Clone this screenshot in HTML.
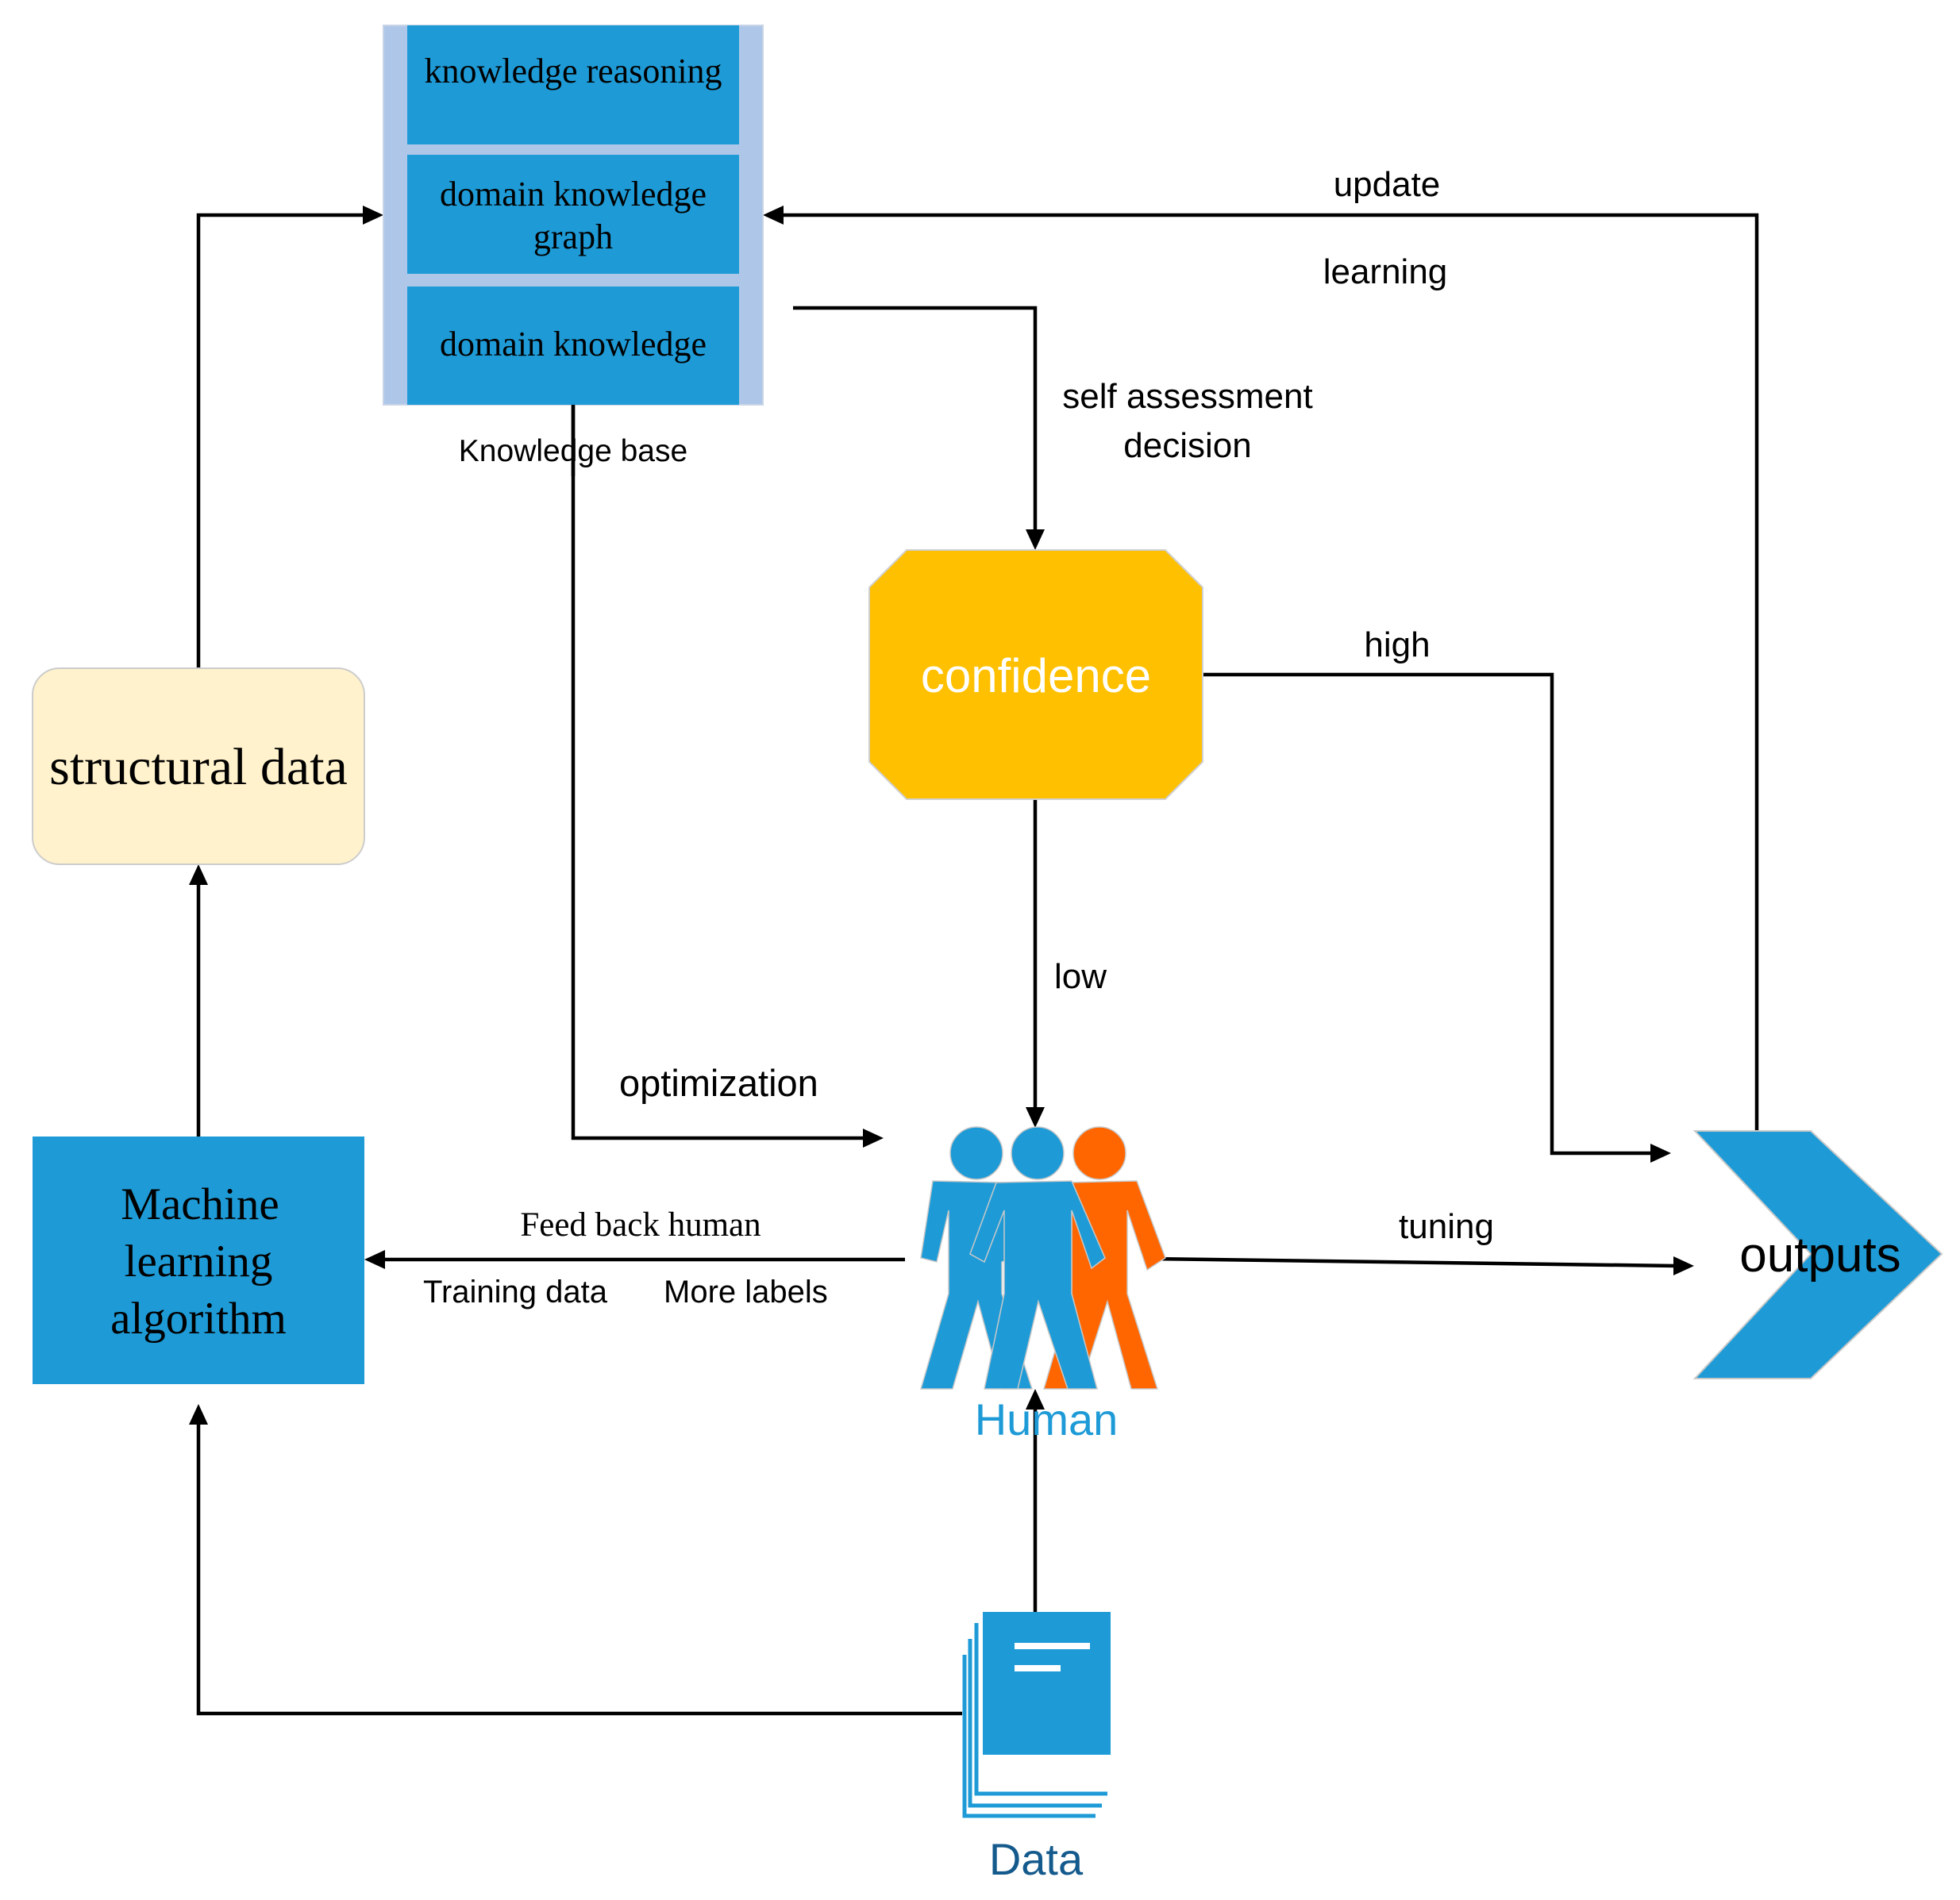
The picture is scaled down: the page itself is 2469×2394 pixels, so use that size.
<!DOCTYPE html>
<html><head><meta charset="utf-8"><style>
html,body{margin:0;padding:0;background:#fff;}
svg{display:block;}
.s{font-family:"Liberation Sans",sans-serif;}
.r{font-family:"Liberation Serif",serif;}
</style></head><body>
<svg width="2469" height="2394" viewBox="0 0 2469 2394" xmlns="http://www.w3.org/2000/svg">
<g fill="none" stroke="#000" stroke-width="4.5">
<polyline points="250,842 250,271 460,271"/>
<polyline points="2213,1424 2213,271 985,271"/>
<polyline points="999,388 1304,388 1304,670"/>
<polyline points="1515,850 1955,850 1955,1453 2082,1453"/>
<line x1="1304" y1="1007" x2="1304" y2="1398"/>
<polyline points="722,510 722,1434 1090,1434"/>
<line x1="250" y1="1432" x2="250" y2="1112"/>
<line x1="1140" y1="1587" x2="482" y2="1587"/>
<line x1="1448" y1="1586" x2="2111" y2="1595"/>
<polyline points="1212,2159 250,2159 250,1792"/>
<line x1="1304" y1="2031" x2="1304" y2="1773"/>
</g>
<g fill="#000">
<polygon points="483,271 457,259 457,283"/>
<polygon points="961,271 987,259 987,283"/>
<polygon points="1304,693 1292,667 1316,667"/>
<polygon points="2105,1453 2079,1441 2079,1465"/>
<polygon points="1304,1421 1292,1395 1316,1395"/>
<polygon points="1113,1434 1087,1422 1087,1446"/>
<polygon points="250,1089 238,1115 262,1115"/>
<polygon points="459,1587 485,1575 485,1599"/>
<polygon points="2134,1595 2108,1583 2108,1607"/>
<polygon points="250,1769 238,1795 262,1795"/>
<polygon points="1304,1750 1292,1776 1316,1776"/>
</g>
<rect x="483" y="32" width="478" height="478" fill="#aec7e8" stroke="#c8d4e6" stroke-width="2"/>
<rect x="513" y="32" width="418" height="150" fill="#1e9bd7"/>
<rect x="513" y="195" width="418" height="150" fill="#1e9bd7"/>
<rect x="513" y="361" width="418" height="149" fill="#1e9bd7"/>
<line x1="722" y1="510" x2="722" y2="600" stroke="#000" stroke-width="4.5"/>
<g class="r" font-size="44" fill="#000" text-anchor="middle">
<text x="722" y="104">knowledge reasoning</text>
<text x="722" y="259">domain knowledge</text>
<text x="722" y="313">graph</text>
<text x="722" y="448">domain knowledge</text>
</g>
<text class="s" x="722" y="581" font-size="39" text-anchor="middle">Knowledge base</text>
<g class="s" font-size="44" fill="#000">
<text x="1747" y="247" text-anchor="middle">update</text>
<text x="1745" y="357" text-anchor="middle">learning</text>
<text x="1496" y="514" text-anchor="middle">self assessment</text>
<text x="1496" y="576" text-anchor="middle">decision</text>
<text x="1760" y="827" text-anchor="middle">high</text>
<text x="1328" y="1245">low</text>
<text x="780" y="1381" font-size="47">optimization</text>
<text x="1822" y="1560" text-anchor="middle">tuning</text>
</g>
<g class="s" font-size="40" fill="#000">
<text x="533" y="1641">Training data</text>
<text x="836" y="1641">More labels</text>
</g>
<text class="r" x="807" y="1557" font-size="43" text-anchor="middle">Feed back human</text>
<polygon points="1142,693 1468,693 1515,740 1515,960 1468,1007 1142,1007 1095,960 1095,740" fill="#ffc000" stroke="#d0d0d0" stroke-width="2"/>
<text class="s" x="1305" y="872" font-size="60" fill="#fff" text-anchor="middle">confidence</text>
<rect x="41" y="842" width="418" height="247" rx="34" fill="#fff2cc" stroke="#cccccc" stroke-width="2"/>
<text class="r" x="250" y="988" font-size="66" text-anchor="middle">structural data</text>
<rect x="41" y="1432" width="418" height="312" fill="#1e9bd7"/>
<g class="r" font-size="57" text-anchor="middle" fill="#000">
<text x="252" y="1536">Machine</text>
<text x="250" y="1608">learning</text>
<text x="250" y="1680">algorithm</text>
</g>
<polygon points="2135,1425 2281,1425 2446,1580 2281,1737 2135,1737 2281,1580" fill="#1e9bd7" stroke="#c8c8c8" stroke-width="2"/>
<text class="s" x="2293" y="1602" font-size="62" text-anchor="middle" fill="#000">outputs</text>
<g stroke="#c8c8c8" stroke-width="1.5">
<circle cx="1385" cy="1453" r="33" fill="#ff6600"/>
<polygon points="1345,1490 1432,1488 1468,1585 1445,1600 1420,1525 1420,1630 1458,1750 1425,1750 1395,1640 1360,1750 1315,1750 1350,1630 1350,1525" fill="#ff6600"/>
<circle cx="1230" cy="1453" r="33" fill="#1e9bd7"/>
<polygon points="1175,1488 1265,1490 1280,1585 1262,1590 1262,1630 1300,1750 1262,1750 1232,1640 1200,1750 1160,1750 1195,1630 1195,1525 1180,1590 1160,1585" fill="#1e9bd7"/>
<circle cx="1307" cy="1453" r="33" fill="#1e9bd7"/>
<polygon points="1255,1490 1350,1488 1392,1585 1375,1598 1350,1525 1350,1630 1382,1750 1345,1750 1308,1640 1282,1750 1240,1750 1265,1630 1265,1525 1240,1590 1222,1580" fill="#1e9bd7"/>
</g>
<text class="s" x="1318" y="1808" font-size="56" fill="#1e9bd7" text-anchor="middle">Human</text>
<g fill="none" stroke="#1e9bd7" stroke-width="5">
<polyline points="1215,2085 1215,2288 1380,2288"/>
<polyline points="1222,2065 1222,2275 1388,2275"/>
<polyline points="1230,2045 1230,2260 1395,2260"/>
</g>
<rect x="1238" y="2031" width="161" height="180" fill="#1e9bd7"/>
<rect x="1278" y="2070" width="95" height="8" fill="#fff"/>
<rect x="1278" y="2098" width="58" height="8" fill="#fff"/>
<text class="s" x="1305" y="2362" font-size="56" fill="#145a8c" text-anchor="middle">Data</text>
</svg>
</body></html>
